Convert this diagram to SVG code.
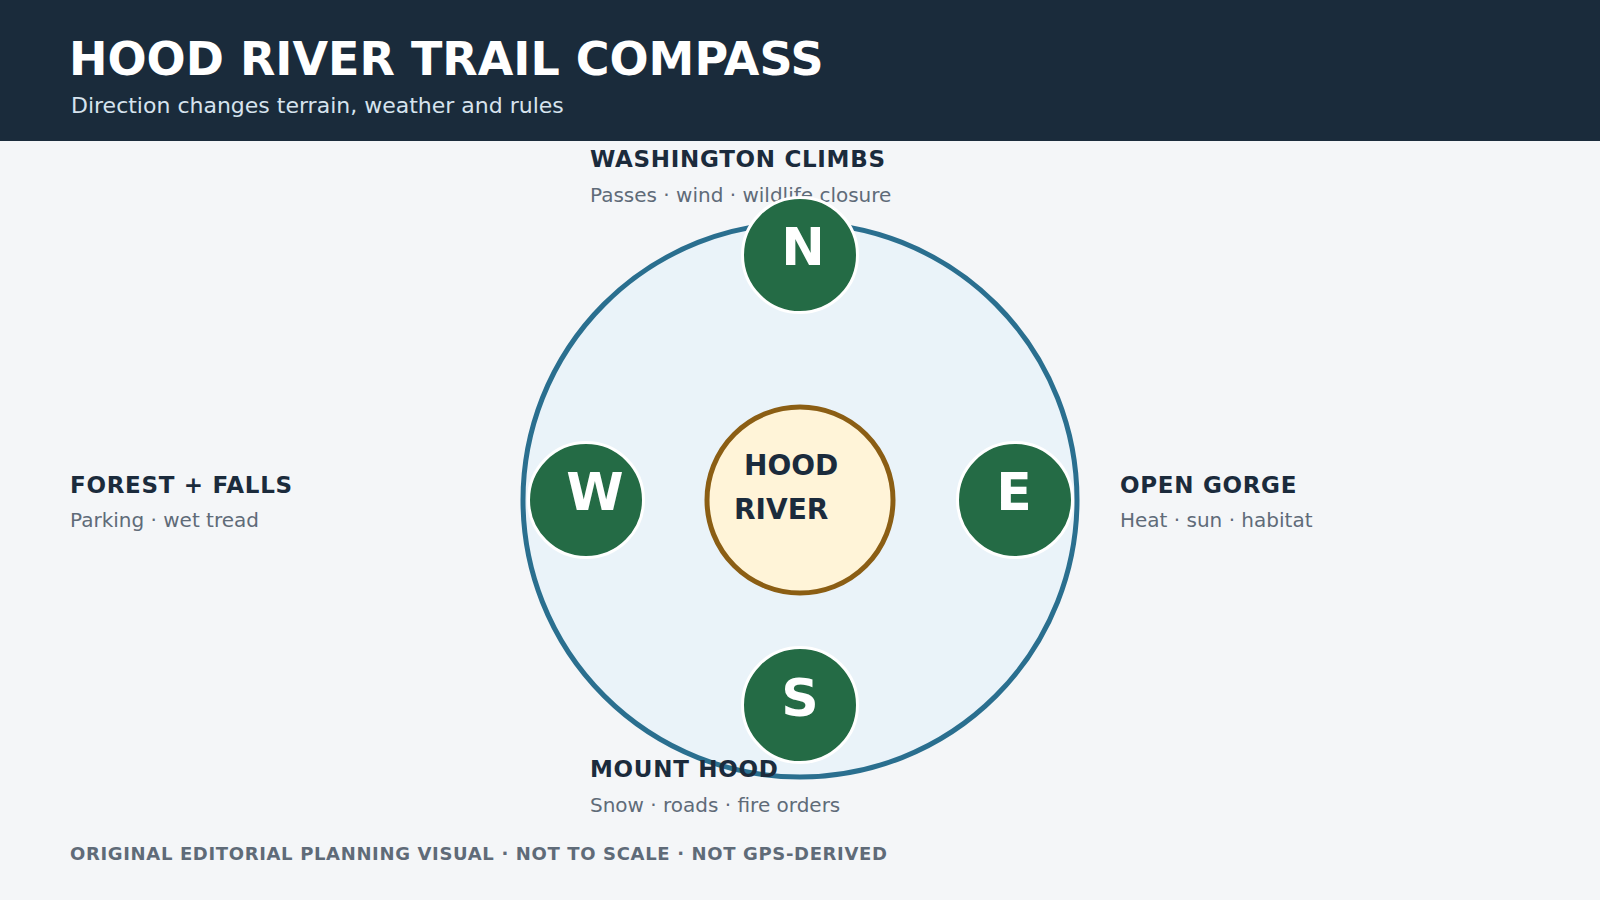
<svg xmlns="http://www.w3.org/2000/svg" width="1600" height="900" viewBox="0 0 1600 900">
<style>
.hdr{fill:#1a2b3b}
.title{font-family:"DejaVu Sans",sans-serif;font-weight:bold;font-size:46px;fill:#ffffff}
.subtitle{font-family:"DejaVu Sans",sans-serif;font-size:22px;fill:#d6e3ee}
.lbl{font-family:"DejaVu Sans",sans-serif;font-weight:bold;font-size:23px;letter-spacing:0.7px;fill:#1b2b3c}
.sub{font-family:"DejaVu Sans",sans-serif;font-size:20px;fill:#5f6b78}
.foot{font-family:"DejaVu Sans",sans-serif;font-weight:bold;font-size:18px;letter-spacing:0.65px;fill:#5f6b78}
.dir{fill:#246b45;stroke:#ffffff;stroke-width:3}
.dirt{font-family:"DejaVu Sans",sans-serif;font-weight:bold;font-size:52px;fill:#ffffff;text-anchor:middle}
.ctr{font-family:"DejaVu Sans",sans-serif;font-weight:bold;font-size:28px;fill:#1b2b3c}
</style>
<rect width="1600" height="900" fill="#f4f6f8"/>
<rect class="hdr" x="0" y="0" width="1600" height="141"/>
<text class="title" x="69" y="75">HOOD RIVER TRAIL COMPASS</text>
<text class="subtitle" x="71" y="113">Direction changes terrain, weather and rules</text>
<g id="ring">
<circle cx="800" cy="500" r="277" fill="#eaf3f9" stroke="#2a6f8f" stroke-width="5"/>
</g>
<g id="labels">
<text class="lbl" x="590" y="167">WASHINGTON CLIMBS</text>
<text class="sub" x="590" y="202">Passes · wind · wildlife closure</text>
<text class="lbl" x="70" y="493">FOREST + FALLS</text>
<text class="sub" x="70" y="527">Parking · wet tread</text>
<text class="lbl" x="1120" y="493">OPEN GORGE</text>
<text class="sub" x="1120" y="527">Heat · sun · habitat</text>
<text class="lbl" x="590" y="777">MOUNT HOOD</text>
<text class="sub" x="590" y="812">Snow · roads · fire orders</text>
</g>
<g id="connectors"></g>
<g id="center">
<circle cx="800" cy="500" r="93" fill="#fff4d8" stroke="#8b5e14" stroke-width="5"/>
<text class="ctr" x="744" y="475">HOOD</text>
<text class="ctr" x="734" y="519">RIVER</text>
</g>
<g id="north">
<circle class="dir" cx="800" cy="255" r="57.5"/>
<text class="dirt" x="803" y="265">N</text>
</g>
<g id="west">
<circle class="dir" cx="586" cy="500" r="57.5"/>
<text class="dirt" x="595" y="510">W</text>
</g>
<g id="east">
<circle class="dir" cx="1015" cy="500" r="57.5"/>
<text class="dirt" x="1014" y="510">E</text>
</g>
<g id="south">
<circle class="dir" cx="800" cy="705" r="57.5"/>
<text class="dirt" x="800" y="716">S</text>
</g>
<text class="foot" x="70" y="860">ORIGINAL EDITORIAL PLANNING VISUAL · NOT TO SCALE · NOT GPS-DERIVED</text>
</svg>
